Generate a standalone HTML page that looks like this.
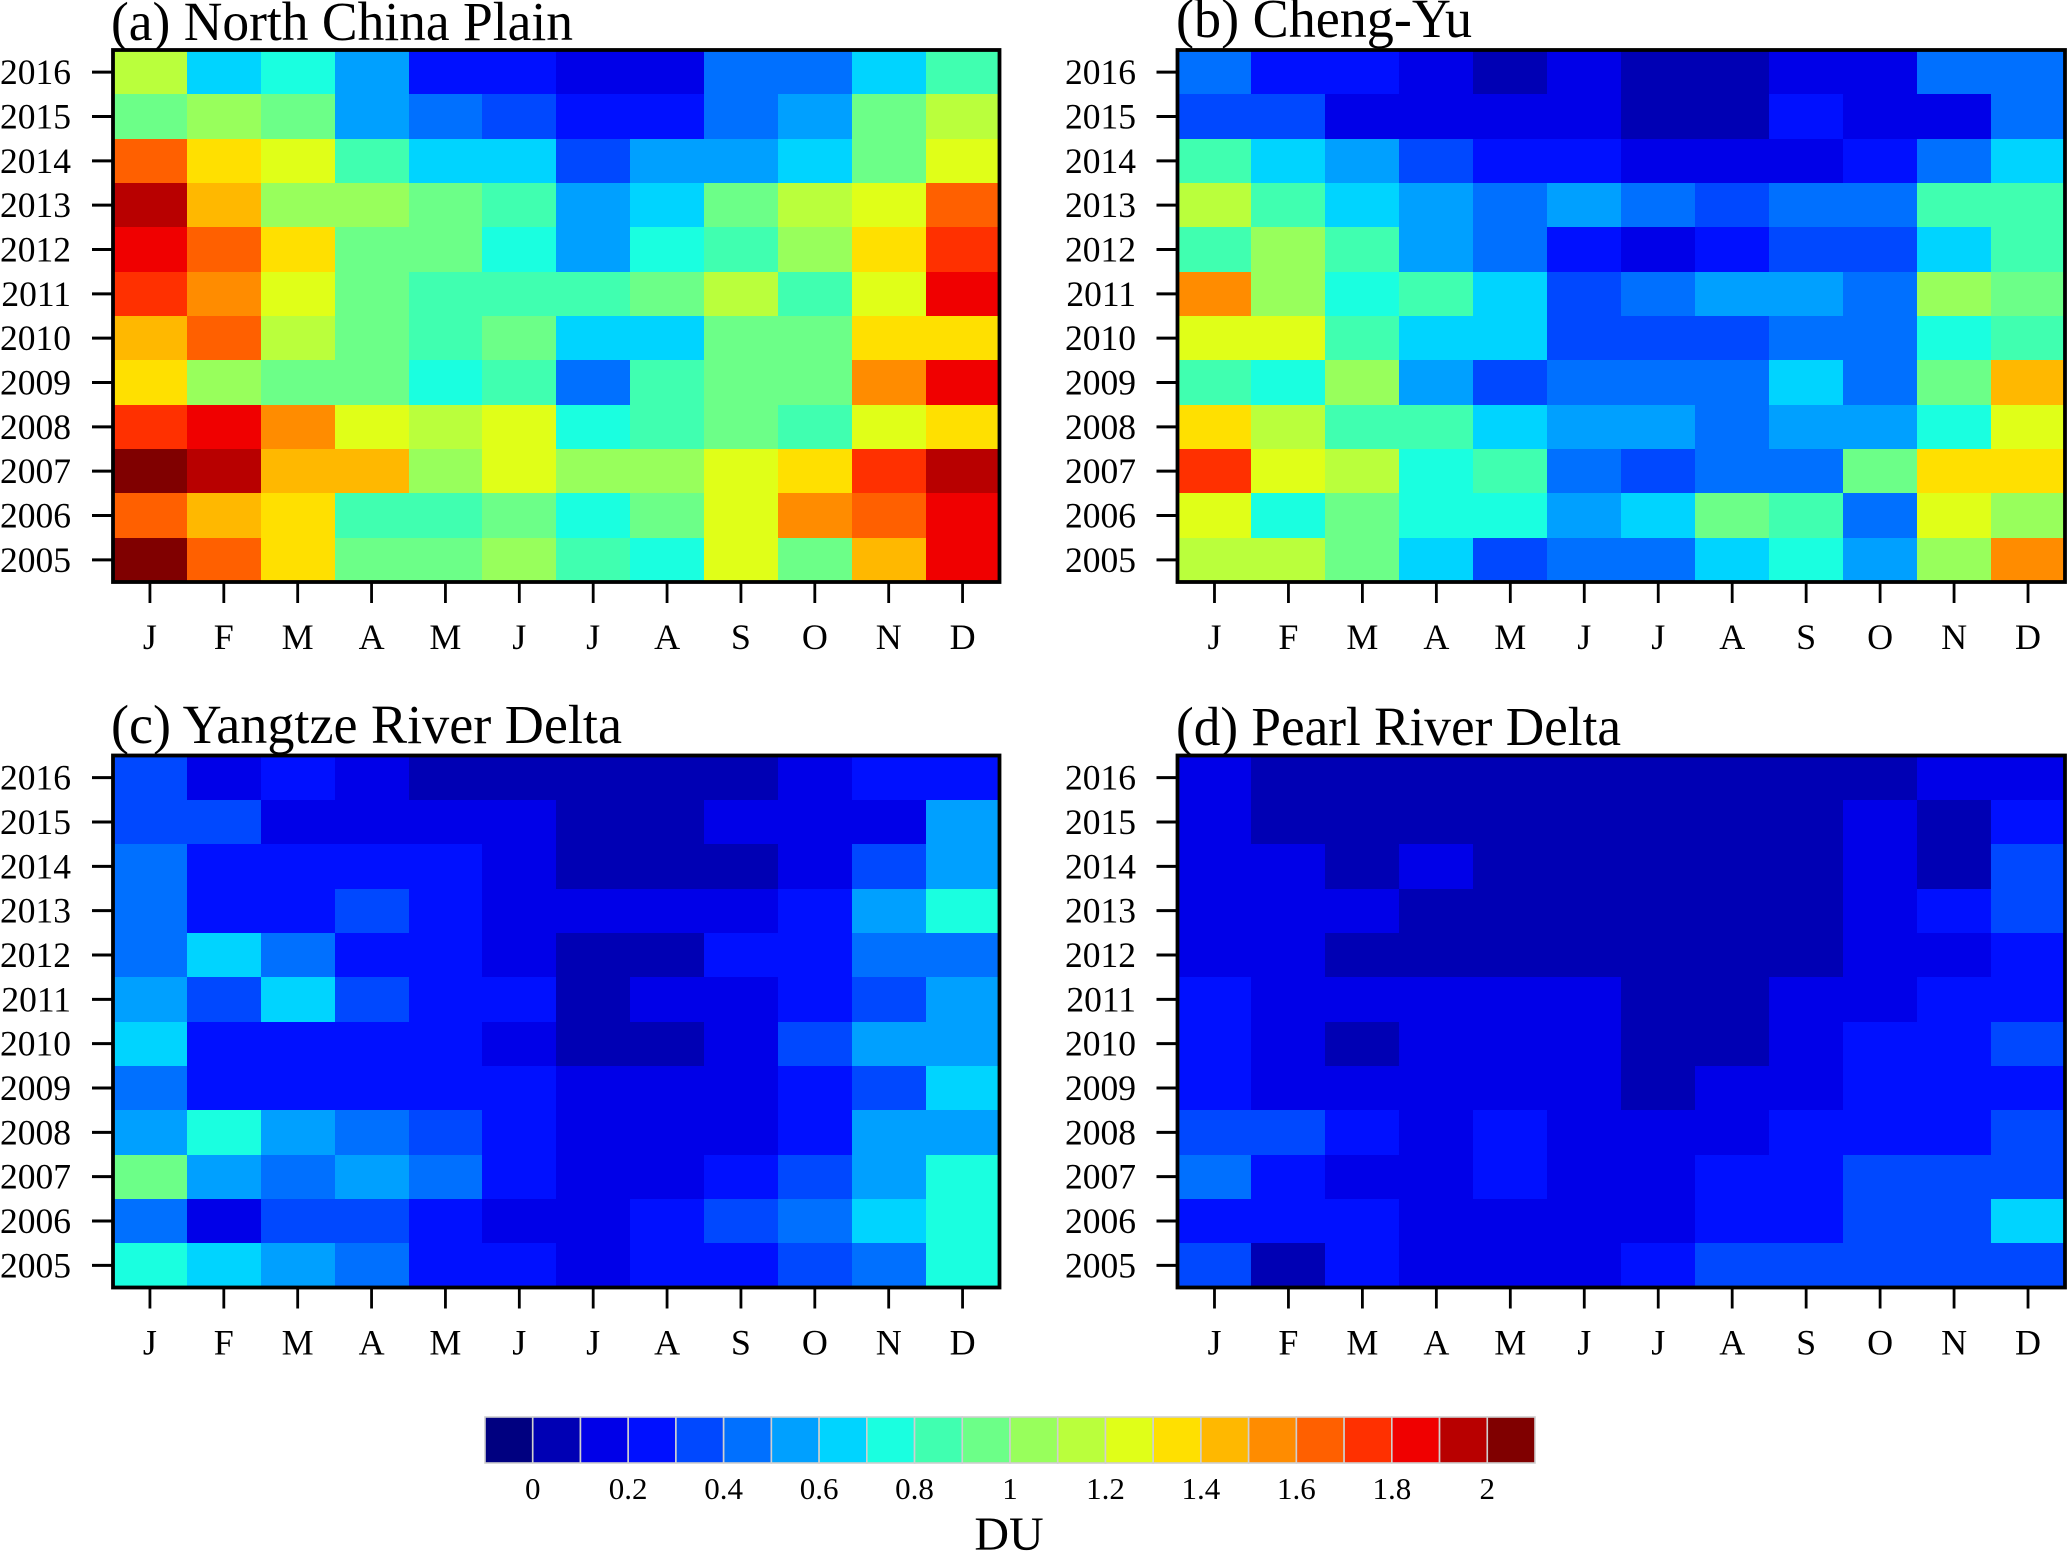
<!DOCTYPE html>
<html lang="en">
<head>
<meta charset="utf-8">
<title>Monthly column values by region, 2005–2016</title>
<style>
html,body{margin:0;padding:0;background:#fff;width:2067px;height:1552px;overflow:hidden}
svg{display:block}
text{font-family:"Liberation Serif","Times New Roman",serif;fill:#000}
</style>
</head>
<body>
<svg id="chart" xmlns="http://www.w3.org/2000/svg" width="2067" height="1552" viewBox="0 0 2067 1552"></svg>
<script>
const months = ["J","F","M","A","M","J","J","A","S","O","N","D"];
const years = [2016,2015,2014,2013,2012,2011,2010,2009,2008,2007,2006,2005];
const levelColors = ["#000080","#0000b4","#0000e8","#0010ff","#0048ff","#0070ff","#00a0ff","#00d4ff","#1affe0","#40ffb0","#6cff88","#98ff5c","#baff3c","#e0ff18","#ffe000","#ffb800","#ff8c00","#ff6000","#ff3000","#f00000","#b80000","#800000"];
const colorbarLabels = ["0","0.2","0.4","0.6","0.8","1","1.2","1.4","1.6","1.8","2"];
const levelStep = 0.1;

const northChinaPlain = [
[1.15,.65,.75,.55,.25,.25,.15,.15,.45,.45,.65,.85],
[.95,1.05,.95,.55,.45,.35,.25,.25,.45,.55,.95,1.15],
[1.65,1.35,1.25,.85,.65,.65,.35,.55,.55,.65,.95,1.25],
[1.95,1.45,1.05,1.05,.95,.85,.55,.65,.95,1.15,1.25,1.65],
[1.85,1.65,1.35,.95,.95,.75,.55,.75,.85,1.05,1.35,1.75],
[1.75,1.55,1.25,.95,.85,.85,.85,.95,1.15,.85,1.25,1.85],
[1.45,1.65,1.15,.95,.85,.95,.65,.65,.95,.95,1.35,1.35],
[1.35,1.05,.95,.95,.75,.85,.45,.85,.95,.95,1.55,1.85],
[1.75,1.85,1.55,1.25,1.15,1.25,.75,.85,.95,.85,1.25,1.35],
[2.05,1.95,1.45,1.45,1.05,1.25,1.05,1.05,1.25,1.35,1.75,1.95],
[1.65,1.45,1.35,.85,.85,.95,.75,.95,1.25,1.55,1.65,1.85],
[2.05,1.65,1.35,.95,.95,1.05,.85,.75,1.25,.95,1.45,1.85]
];
const chengYu = [
[.45,.25,.25,.15,.05,.15,.05,.05,.15,.15,.45,.45],
[.35,.35,.15,.15,.15,.15,.05,.05,.25,.15,.15,.45],
[.85,.65,.55,.35,.25,.25,.15,.15,.15,.25,.45,.65],
[1.15,.85,.65,.55,.45,.55,.45,.35,.45,.45,.85,.85],
[.85,1.05,.85,.55,.45,.25,.15,.25,.35,.35,.65,.85],
[1.55,1.05,.75,.85,.65,.35,.45,.55,.55,.45,1.05,.95],
[1.25,1.25,.85,.65,.65,.35,.35,.35,.45,.45,.75,.85],
[.85,.75,1.05,.55,.35,.45,.45,.45,.65,.45,.95,1.45],
[1.35,1.15,.85,.85,.65,.55,.55,.45,.55,.55,.75,1.25],
[1.75,1.25,1.15,.75,.85,.45,.35,.45,.45,.95,1.35,1.35],
[1.25,.75,.95,.75,.75,.55,.65,.95,.85,.45,1.25,1.05],
[1.15,1.15,.95,.65,.35,.45,.45,.65,.75,.55,1.05,1.55]
];
const yangtzeRiverDelta = [
[.35,.15,.25,.15,.05,.05,.05,.05,.05,.15,.25,.25],
[.35,.35,.15,.15,.15,.15,.05,.05,.15,.15,.15,.55],
[.45,.25,.25,.25,.25,.15,.05,.05,.05,.15,.35,.55],
[.45,.25,.25,.35,.25,.15,.15,.15,.15,.25,.55,.75],
[.45,.65,.45,.25,.25,.15,.05,.05,.25,.25,.45,.45],
[.55,.35,.65,.35,.25,.25,.05,.15,.15,.25,.35,.55],
[.65,.25,.25,.25,.25,.15,.05,.05,.15,.35,.55,.55],
[.45,.25,.25,.25,.25,.25,.15,.15,.15,.25,.35,.65],
[.55,.75,.55,.45,.35,.25,.15,.15,.15,.25,.55,.55],
[.95,.55,.45,.55,.45,.25,.15,.15,.25,.35,.55,.75],
[.45,.15,.35,.35,.25,.15,.15,.25,.35,.45,.65,.75],
[.75,.65,.55,.45,.25,.25,.15,.25,.25,.35,.45,.75]
];
const pearlRiverDelta = [
[.15,.05,.05,.05,.05,.05,.05,.05,.05,.05,.15,.15],
[.15,.05,.05,.05,.05,.05,.05,.05,.05,.15,.05,.25],
[.15,.15,.05,.15,.05,.05,.05,.05,.05,.15,.05,.35],
[.15,.15,.15,.05,.05,.05,.05,.05,.05,.15,.25,.35],
[.15,.15,.05,.05,.05,.05,.05,.05,.05,.15,.15,.25],
[.25,.15,.15,.15,.15,.15,.05,.05,.15,.15,.25,.25],
[.25,.15,.05,.15,.15,.15,.05,.05,.15,.25,.25,.35],
[.25,.15,.15,.15,.15,.15,.05,.15,.15,.25,.25,.25],
[.35,.35,.25,.15,.25,.15,.15,.15,.25,.25,.25,.35],
[.45,.25,.15,.15,.25,.15,.15,.25,.25,.35,.35,.35],
[.25,.25,.25,.15,.15,.15,.15,.25,.25,.35,.35,.65],
[.35,.05,.25,.15,.15,.15,.25,.35,.35,.35,.35,.35]
];

const svg = document.getElementById('chart');
const NS = 'http://www.w3.org/2000/svg';

function make(tag, props, text) {
  const el = document.createElementNS(NS, tag);
  for (const k in props) el.setAttribute(k, props[k]);
  if (text !== undefined) el.textContent = text;
  svg.appendChild(el);
  return el;
}

function colorFor(value) {
  const idx = Math.floor(value / levelStep + 1e-9) + 1;
  return levelColors[Math.max(0, Math.min(levelColors.length - 1, value < 0 ? 0 : idx))];
}

function drawPanel(slug, title, titleX, titleY, titleWidth, values, left, right, top, bottom, labelRight) {
  const cw = (right - left) / months.length;
  const ch = (bottom - top) / years.length;
  const xEdge = function (i) { return Math.round(left + i * cw); };
  const yEdge = function (j) { return Math.round(top + j * ch); };
  const xMid = function (i) { return left + (i + 0.5) * cw; };
  const yMid = function (j) { return top + (j + 0.5) * ch; };

  const t = make('text', {x: titleX, y: titleY, 'font-size': 55, textLength: titleWidth, lengthAdjust: 'spacingAndGlyphs'}, title);
  
  

  values.forEach(function (row, j) {
    row.forEach(function (v, i) {
      const c = make('rect', {x: xEdge(i), y: yEdge(j), width: xEdge(i + 1) - xEdge(i), height: yEdge(j + 1) - yEdge(j), fill: colorFor(v), 'shape-rendering': 'crispEdges'});
      
      
    });
  });

  const frame = make('rect', {x: left, y: top, width: right - left, height: bottom - top, fill: 'none', stroke: '#000', 'stroke-width': 3.8});
  
  

  years.forEach(function (yr, j) {
    const tick = make('line', {x1: left - 21, x2: left, y1: yMid(j), y2: yMid(j), stroke: '#000', 'stroke-width': 3});
    
    
    const lab = make('text', {x: labelRight, y: yMid(j) + 12, 'font-size': 35.5, 'text-anchor': 'end'}, yr);
    
    
  });

  months.forEach(function (m, i) {
    const tick = make('line', {x1: xMid(i), x2: xMid(i), y1: bottom, y2: bottom + 21, stroke: '#000', 'stroke-width': 2.8});
    
    
    const lab = make('text', {x: xMid(i), y: bottom + 67, 'font-size': 36, 'text-anchor': 'middle'}, m);
    
    
  });
}

drawPanel('north-china-plain', '(a) North China Plain', 111, 40, 462, northChinaPlain, 113, 999.5, 50, 582, 71);
drawPanel('cheng-yu', '(b) Cheng-Yu', 1176, 37, 296, chengYu, 1177.5, 2065, 50, 582, 1136);
drawPanel('yangtze-river-delta', '(c) Yangtze River Delta', 111, 743, 511, yangtzeRiverDelta, 113, 999.5, 755.5, 1287.5, 71);
drawPanel('pearl-river-delta', '(d) Pearl River Delta', 1176, 745, 445, pearlRiverDelta, 1177.5, 2065, 755.5, 1287.5, 1136);

const cbLeft = 485, cbRight = 1535, cbTop = 1417, cbBottom = 1463;
const cbW = (cbRight - cbLeft) / levelColors.length;
const cbX = function (k) { return cbLeft + k * cbW; };
levelColors.forEach(function (c, k) {
  const box = make('rect', {x: cbX(k), y: cbTop, width: cbW, height: cbBottom - cbTop, fill: c, stroke: '#cfcfcf', 'stroke-width': 1.6});
  
  
});
colorbarLabels.forEach(function (s, n) {
  const lab = make('text', {x: cbX(2 * n + 1), y: 1499, 'font-size': 31, 'text-anchor': 'middle'}, s);
  
  
});
const unit = make('text', {x: 1009, y: 1550, 'font-size': 48, 'text-anchor': 'middle'}, 'DU');


</script>
</body>
</html>
